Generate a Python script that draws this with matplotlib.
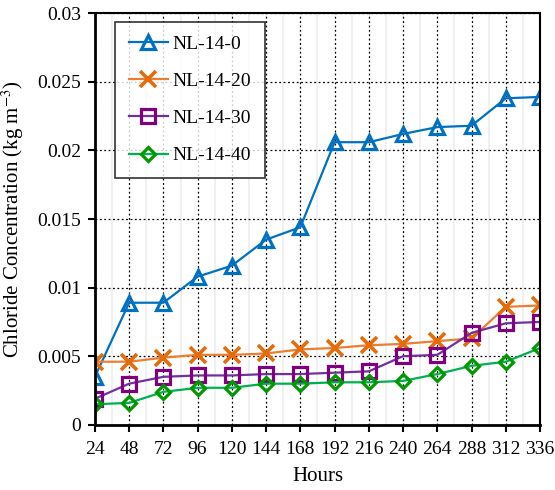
import numpy as np
import matplotlib
matplotlib.use('Agg')
import matplotlib.pyplot as plt

plt.rcParams['font.family'] = ['Liberation Serif', 'DejaVu Serif']
plt.rcParams['mathtext.fontset'] = 'stix'

hours = [24, 48, 72, 96, 120, 144, 168, 192, 216, 240, 264, 288, 312, 336]
nl_0 = [0.0035, 0.0089, 0.0089, 0.0108, 0.0116, 0.0135, 0.0144, 0.0206, 0.0206,
        0.0212, 0.0217, 0.0218, 0.0238, 0.0239]
nl_20 = [0.0046, 0.0046, 0.0049, 0.0051, 0.0051, 0.0052, 0.0055, 0.0056, 0.0058,
         0.0059, 0.0061, 0.0063, 0.0086, 0.0087]
nl_30 = [0.0019, 0.0030, 0.0035, 0.0036, 0.0036, 0.0037, 0.0037, 0.0038, 0.0039,
         0.0050, 0.0051, 0.0067, 0.0074, 0.0075]
nl_40 = [0.0015, 0.0016, 0.0024, 0.0027, 0.0027, 0.0030, 0.0030, 0.0031, 0.0031,
         0.0032, 0.0037, 0.0043, 0.0046, 0.0056]

fig = plt.figure(figsize=(5.55, 4.90), dpi=100)
ax = fig.add_axes([0.171, 0.133, 0.802, 0.840])

# light minor grid between hour ticks
for m in np.arange(36, 336, 24):
    ax.axvline(m, color='#eeeeee', lw=1.2, zorder=0)

ax.plot(hours, nl_0, '-^', color='#0070C0', lw=1.6, ms=10, mfc='none', mew=2.3, label='NL-14-0')
ax.plot(hours, nl_20, '-x', color='#ED7D31', mec='#E46C0A', lw=1.6, ms=12, mew=2.6, label='NL-14-20')
ax.plot(hours, nl_30, '-s', color='#7030A0', mec='#800080', lw=1.6, ms=10, mfc='none', mew=2.3, label='NL-14-30')
ax.plot(hours, nl_40, '-D', color='#00B050', mec='#009900', lw=1.6, ms=7.5, mfc='none', mew=2.3, label='NL-14-40')

ax.set_xlim(24, 336)
ax.set_ylim(0, 0.03)
ax.set_xticks(hours)
ax.set_yticks([0, 0.005, 0.01, 0.015, 0.02, 0.025, 0.03])
ax.set_yticklabels(['0', '0.005', '0.01', '0.015', '0.02', '0.025', '0.03'])
ax.grid(True, which='major', color='black', linestyle=(0, (1.5, 2)), lw=0.9)
ax.set_axisbelow(True)
ax.tick_params(labelsize=14, direction='out', length=5, width=1.5)
ax.tick_params(axis='x', pad=7)
ax.tick_params(axis='y', pad=5)

for s in ax.spines.values():
    s.set_linewidth(1.5)
ax.spines['left'].set_linewidth(2)
ax.spines['bottom'].set_linewidth(2)

ax.set_xlabel('Hours', fontsize=15, labelpad=6)
ax.set_ylabel('Chloride Concentration (kg m$^{-3}$)', fontsize=15, labelpad=8)

leg = ax.legend(loc='upper left', bbox_to_anchor=(0.033, 0.993), fontsize=14, frameon=True,
                fancybox=False, edgecolor='black', labelspacing=1.0, handlelength=2.0,
                handletextpad=0.25, borderpad=0.7, borderaxespad=0.3)
leg.get_frame().set_linewidth(1.2)

fig.savefig('out.png', dpi=100)
